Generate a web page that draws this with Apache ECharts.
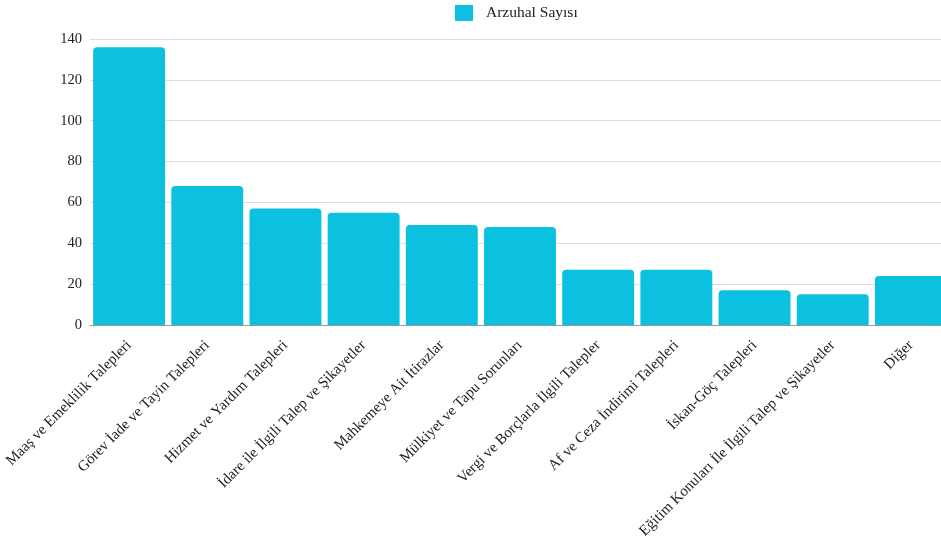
<!DOCTYPE html>
<html><head><meta charset="utf-8">
<script src="https://cdn.jsdelivr.net/npm/echarts@6/dist/echarts.min.js"></script>
<style>html,body{margin:0;padding:0;background:#fff;overflow:hidden}#c{width:950px;height:545px}</style>
</head><body><div id="c"></div>
<script>
const categories = ["Maaş ve Emeklilik Talepleri","Görev İade ve Tayin Talepleri","Hizmet ve Yardım Talepleri","İdare ile İlgili Talep ve Şikayetler","Mahkemeye Ait İtirazlar","Mülkiyet ve Tapu Sorunları","Vergi ve Borçlarla İlgili Talepler","Af ve Ceza İndirimi Talepleri","İskan-Göç Talepleri","Eğitim Konuları İle İlgili Talep ve Şikayetler","Diğer"];
const values = [136,68,57,55,49,48,27,27,17,15,24];
const seriesName = "Arzuhal Sayısı";
const font = "'Liberation Serif','Times New Roman',serif";
const chart = echarts.init(document.getElementById('c'));
chart.setOption({
  animation:false,
  textStyle:{fontFamily:font},
  legend:{top:0,left:450,itemWidth:18,itemHeight:16,icon:'rect',
    textStyle:{fontFamily:font,fontSize:15.5,color:'#222',padding:[0,0,0,8]},data:[seriesName]},
  grid:{left:90,right:0,top:39,bottom:220,containLabel:false},
  xAxis:{type:'category',data:categories,
    axisLine:{lineStyle:{color:'#999'}},axisTick:{show:false},
    axisLabel:{rotate:45,interval:0,fontFamily:font,fontSize:15,color:'#222',margin:18}},
  yAxis:{type:'value',min:0,max:140,interval:20,
    axisLine:{show:false},axisTick:{show:false},
    splitLine:{lineStyle:{color:'#ddd'}},
    axisLabel:{fontFamily:font,fontSize:14.5,color:'#222',margin:8}},
  series:[{name:seriesName,type:'bar',data:values,barCategoryGap:'8%',
    itemStyle:{color:'#0CC0E0',borderRadius:[4,4,0,0]}}]
});
</script></body></html>
